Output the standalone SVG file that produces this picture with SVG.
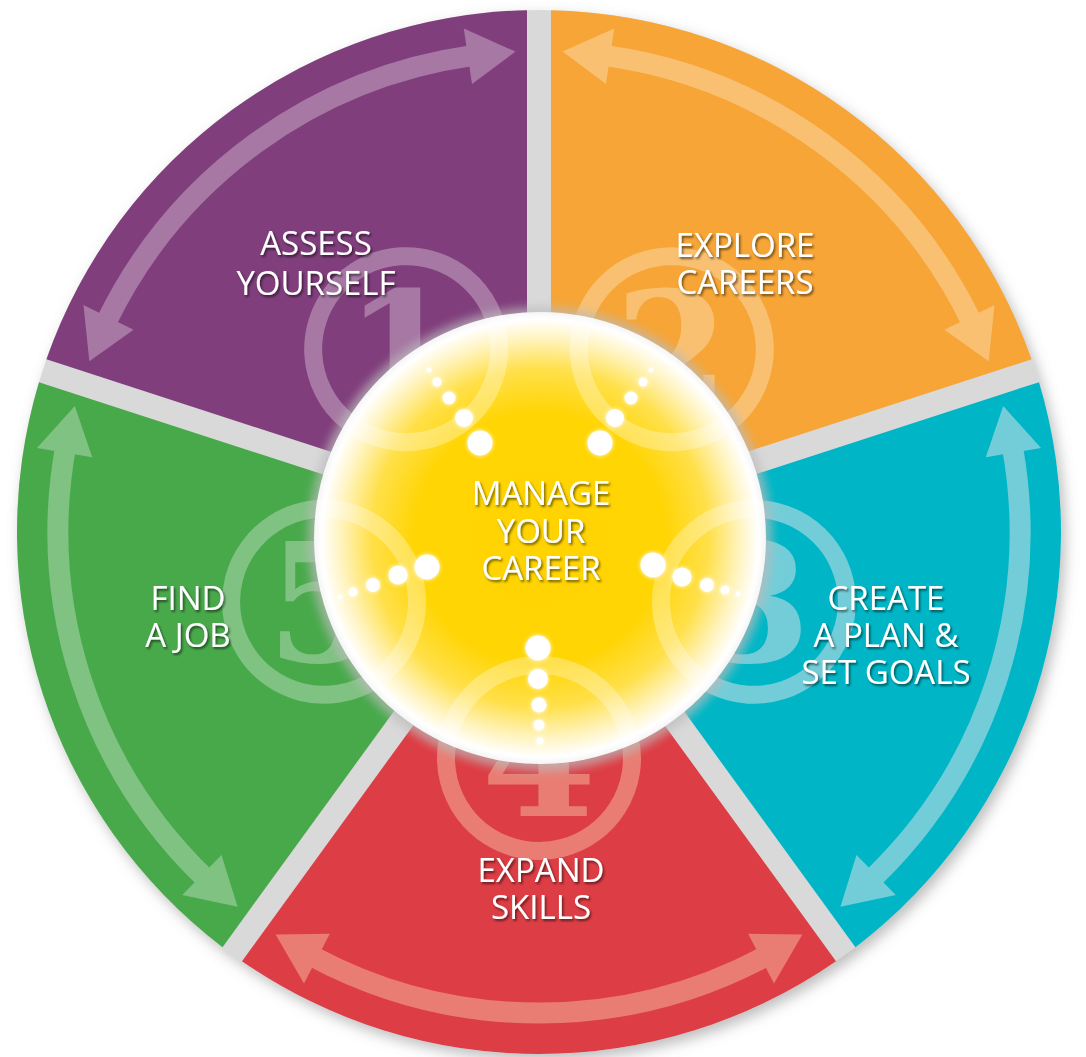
<svg xmlns="http://www.w3.org/2000/svg" width="1086" height="1057" viewBox="0 0 1086 1057">
<defs>
<style>
.lbl{font-family:"Open Sans","Liberation Sans",sans-serif;font-size:33px;fill:#fff;text-anchor:middle}
.num{font-family:"DejaVu Serif","Liberation Serif",serif;font-weight:bold;font-size:165px;text-anchor:middle}
.dot{fill:#fff}
.fr{fill:none;stroke:#fff;stroke-width:18;stroke-opacity:0.3}
</style>
<filter id="shadow" x="-10%" y="-10%" width="120%" height="120%">
<feGaussianBlur in="SourceAlpha" stdDeviation="7"/>
<feOffset dx="4" dy="6" result="b"/>
<feFlood flood-color="#7a7a7a" flood-opacity="0.5"/>
<feComposite in2="b" operator="in"/>
<feMerge><feMergeNode/><feMergeNode in="SourceGraphic"/></feMerge>
</filter>
<filter id="ts" x="-20%" y="-30%" width="140%" height="160%">
<feDropShadow dx="1.5" dy="2" stdDeviation="1.3" flood-color="#000" flood-opacity="0.55"/>
</filter>
<filter id="halo" x="-20%" y="-20%" width="140%" height="140%"><feGaussianBlur stdDeviation="5"/></filter>
<filter id="glow" x="-50%" y="-50%" width="200%" height="200%">
<feGaussianBlur in="SourceGraphic" stdDeviation="2" result="g"/>
<feMerge><feMergeNode in="g"/><feMergeNode in="SourceGraphic"/></feMerge>
</filter>
<radialGradient id="yel" cx="540" cy="538" r="228" gradientUnits="userSpaceOnUse">
<stop offset="0" stop-color="#ffd300"/>
<stop offset="0.55" stop-color="#ffd504"/>
<stop offset="0.74" stop-color="#ffe04a"/>
<stop offset="0.87" stop-color="#fff3bb"/>
<stop offset="0.96" stop-color="#ffffff"/>
<stop offset="1" stop-color="#f2f2f2"/>
</radialGradient>
<clipPath id="yclip"><circle cx="540" cy="538" r="226"/></clipPath>
<g id="arr">
<path d="M605.94 55.68A481 481 0 0 1 971.32 321.14" fill="none" stroke="currentColor" stroke-width="21"/>
<polygon points="562.5,51.57 614.24,28.59 605.96,83.97" fill="currentColor"/>
<polygon points="988.65,361.19 994.52,304.88 944.4,329.87" fill="currentColor"/>
<circle cx="671.84" cy="349.16" r="93" fill="none" stroke="currentColor" stroke-width="18"/>
</g>
</defs>
<rect width="1086" height="1057" fill="#fff"/>
<circle cx="539" cy="532" r="522" fill="#d9d9d9" filter="url(#shadow)"/>

<g id="node-explore-careers">
<path d="M551 515.5L551 10.14A522 522 0 0 1 1031.6 359.32Z" fill="#f6a536"/>
<use href="#arr" color="#f9c072"/>
<text class="num" x="672" y="410" fill="#f9c072">2</text>
<g filter="url(#ts)"><text class="lbl" x="745" y="257">EXPLORE</text><text class="lbl" x="745" y="294">CAREERS</text></g>
</g>

<g id="node-create-plan">
<path d="M558.42 538.31L1039.02 382.14A522 522 0 0 1 855.45 947.14Z" fill="#00b6c6"/>
<use href="#arr" color="#73cdd8" transform="rotate(72 539 532)"/>
<text class="num" x="754" y="662" fill="#73cdd8">3</text>
<g filter="url(#ts)"><text class="lbl" x="886" y="610">CREATE</text><text class="lbl" x="886" y="647">A PLAN &amp;</text><text class="lbl" x="886" y="684">SET GOALS</text></g>
</g>

<g id="node-expand-skills">
<path d="M539 552.42L836.03 961.24A522 522 0 0 1 241.97 961.24Z" fill="#dd3d44"/>
<use href="#arr" color="#e97d73" transform="rotate(144 539 532)"/>
<text class="num" x="539" y="816" fill="#e97d73">4</text>
<g filter="url(#ts)"><text class="lbl" x="541" y="882">EXPAND</text><text class="lbl" x="541" y="919">SKILLS</text></g>
</g>

<g id="node-find-job">
<path d="M519.58 538.31L222.55 947.14A522 522 0 0 1 38.98 382.14Z" fill="#48a94b"/>
<use href="#arr" color="#7fc281" transform="rotate(216 539 532)"/>
<text class="num" x="324" y="662" fill="#7fc281">5</text>
<g filter="url(#ts)"><text class="lbl" x="188" y="610">FIND</text><text class="lbl" x="188" y="647">A JOB</text></g>
</g>

<g id="node-assess-yourself">
<path d="M527 515.48L46.4 359.32A522 522 0 0 1 527 10.14Z" fill="#803e7c"/>
<use href="#arr" color="#a678a3" transform="rotate(288 539 532)"/>
<text class="num" x="402" y="410" fill="#a678a3">1</text>
<g filter="url(#ts)"><text class="lbl" x="316" y="255">ASSESS</text><text class="lbl" x="316" y="295">YOURSELF</text></g>
</g>

<g id="node-manage-career">
<circle cx="540" cy="539" r="232" fill="#bcbcbc" opacity="0.7" filter="url(#halo)"/>
<circle cx="540" cy="538" r="226" fill="url(#yel)"/>
<g clip-path="url(#yclip)">
<circle class="fr" cx="406.16" cy="349.16" r="93"/>
<circle class="fr" cx="671.84" cy="349.16" r="93"/>
<circle class="fr" cx="753.94" cy="601.84" r="93"/>
<circle class="fr" cx="539" cy="758" r="93"/>
<circle class="fr" cx="324.06" cy="601.84" r="93"/>
</g>
<g filter="url(#ts)"><text class="lbl" x="541" y="505">MANAGE</text><text class="lbl" x="541" y="543">YOUR</text><text class="lbl" x="541" y="580">CAREER</text></g>
</g>

<g id="connectors" filter="url(#glow)">
<circle class="dot" cx="480" cy="443" r="12.5"/><circle class="dot" cx="464" cy="418" r="9"/><circle class="dot" cx="449" cy="398" r="6.5"/><circle class="dot" cx="437" cy="382" r="4.5"/><circle class="dot" cx="429" cy="370" r="2.5"/>
<circle class="dot" cx="600" cy="443" r="12.5"/><circle class="dot" cx="615" cy="418" r="9"/><circle class="dot" cx="631" cy="398" r="6.5"/><circle class="dot" cx="643" cy="382" r="4.5"/><circle class="dot" cx="651" cy="370" r="2.5"/>
<circle class="dot" cx="653" cy="565" r="12.5"/><circle class="dot" cx="682" cy="577" r="9.5"/><circle class="dot" cx="707" cy="585" r="7"/><circle class="dot" cx="725" cy="590" r="4.5"/><circle class="dot" cx="738" cy="594" r="2.5"/>
<circle class="dot" cx="427" cy="567" r="12.5"/><circle class="dot" cx="398" cy="575" r="9.5"/><circle class="dot" cx="373" cy="585" r="7"/><circle class="dot" cx="353" cy="592" r="4.5"/><circle class="dot" cx="340" cy="597" r="2.5"/>
<circle class="dot" cx="538" cy="648" r="12.5"/><circle class="dot" cx="538" cy="679" r="10"/><circle class="dot" cx="539" cy="705" r="7.5"/><circle class="dot" cx="539" cy="725" r="5.5"/><circle class="dot" cx="540" cy="741" r="3.5"/>
</g>
</svg>
